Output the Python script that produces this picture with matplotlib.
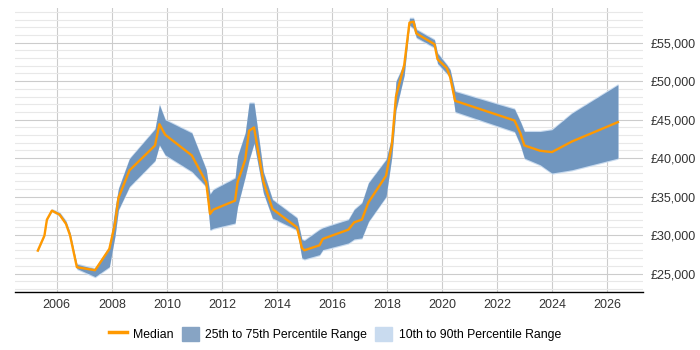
import matplotlib.pyplot as plt
from matplotlib.patches import Patch
from matplotlib.lines import Line2D
from matplotlib.ticker import MultipleLocator, FuncFormatter

plt.rcParams['font.family'] = ['Liberation Sans', 'DejaVu Sans']

# time points (decimal year) and salary percentiles
years = [2005.31, 2005.55, 2005.64, 2005.82, 2006.10, 2006.33, 2006.48, 2006.73,
         2007.39, 2007.91, 2008.12, 2008.24, 2008.64, 2009.57, 2009.73, 2009.94,
         2010.91, 2011.43, 2011.57, 2011.69, 2012.48, 2012.57, 2012.85, 2012.99,
         2013.17, 2013.51, 2013.84, 2014.73, 2014.91, 2015.00, 2015.55, 2015.67,
         2016.60, 2016.81, 2017.09, 2017.33, 2017.97, 2018.18, 2018.33, 2018.63,
         2018.82, 2018.97, 2019.07, 2019.73, 2019.84, 2020.18, 2020.30, 2020.48,
         2022.64, 2022.85, 2023.00, 2023.57, 2024.00, 2024.73, 2026.40]
median = [27980, 29930, 32000, 33170, 32650, 31480, 29970, 25820,
          25430, 28200, 31575, 34820, 38400, 41640, 44400, 43030,
          40340, 36840, 32740, 33300, 34470, 36840, 39790, 43550,
          43980, 36970, 33390, 31000, 28330, 28020, 28670, 29500,
          30700, 31650, 32000, 34250, 37710, 41730, 48000, 52100,
          57600, 57720, 56200, 54790, 52850, 51680, 50510, 47440,
          44880, 43250, 41640, 40950, 40780, 42160, 44670]
p25 = [27980, 29930, 32000, 33170, 32550, 31350, 29850, 25650,
       24600, 25900, 30000, 33300, 36320, 39700, 41730, 40430,
       38270, 36320, 30700, 30900, 31570, 33730, 37620, 39790,
       41950, 35500, 32220, 30700, 27030, 26900, 27460, 28110,
       28980, 29500, 29630, 31780, 35030, 40210, 46270, 50810,
       57300, 56870, 55700, 54400, 52330, 51020, 50590, 46050,
       43450, 41730, 40000, 39140, 38060, 38490, 40000]
p75 = [27980, 29930, 32000, 33300, 32900, 31800, 30300, 26200,
       25610, 28400, 33500, 36020, 39920, 43770, 46920, 44970,
       43250, 38490, 35300, 35900, 37400, 40220, 43250, 47140,
       47140, 38200, 34600, 32220, 29410, 29300, 30700, 30930,
       32000, 33300, 34170, 36760, 39790, 42800, 49950, 52330,
       58160, 58160, 56700, 55350, 53620, 52100, 51460, 48650,
       46360, 44750, 43450, 43450, 43680, 45840, 49530]
p10 = [v - 150 for v in p25]
p90 = [v + 150 for v in p75]

year_ticks = list(range(2006, 2027, 2))

fig = plt.figure(figsize=(7, 3.5), dpi=100)
ax = fig.add_axes([15 / 700, 1 - 292 / 350, (642.7 - 15) / 700, 284 / 350])

ax.fill_between(years, p10, p90, color='#c9dbef', lw=0, zorder=2)
ax.fill_between(years, p25, p75, color='#7096bf', lw=0, zorder=3)
ax.plot(years, median, color='#ff9900', lw=1.7, zorder=4)

ax.set_xlim(2004.48, 2027.3)
ax.set_ylim(22600, 59500)
ax.set_xticks(year_ticks)
ax.yaxis.set_major_locator(MultipleLocator(5000))
ax.yaxis.set_minor_locator(MultipleLocator(1000))
ax.yaxis.set_major_formatter(FuncFormatter(lambda v, p: '£{:,.0f}'.format(v)))
ax.yaxis.tick_right()

ax.grid(True, which='major', axis='both', color='#cccccc', lw=0.8, zorder=0)
ax.grid(True, which='minor', axis='y', color='#e8e8e8', lw=0.8, zorder=0)
ax.set_axisbelow(True)

for s in ['left', 'right', 'top']:
    ax.spines[s].set_visible(False)
ax.spines['bottom'].set_color('#000000')
ax.spines['bottom'].set_linewidth(1.0)
ax.tick_params(axis='both', which='both', length=0, labelsize=9, colors='#333333')
ax.tick_params(axis='x', pad=5)
ax.tick_params(axis='y', pad=6)

handles = [Line2D([], [], color='#ff9900', lw=2.5),
           Patch(color='#87a4c4'),
           Patch(color='#c9dbef')]
labels = ['Median', '25th to 75th Percentile Range', '10th to 90th Percentile Range']
ax.legend(handles, labels, loc='center', bbox_to_anchor=(0.51, -42 / 284),
          ncol=3, frameon=False, fontsize=8.8, handlelength=1.4, handleheight=1.5,
          columnspacing=0.7, handletextpad=0.5)

fig.savefig('out.png', dpi=100)
